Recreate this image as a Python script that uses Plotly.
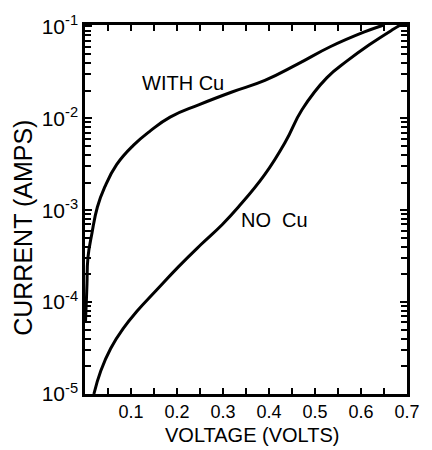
import plotly.graph_objects as go

# WITH Cu curve
with_cu_v = [0.001, 0.0032, 0.0043, 0.0064, 0.015, 0.0268, 0.043, 0.0687, 0.105, 0.142, 0.185,
             0.247, 0.318, 0.391, 0.462, 0.533, 0.606, 0.648]
with_cu_i = [6.0e-5, 1.10e-4, 1.58e-4, 3.05e-4, 5.58e-4, 1.076e-3, 1.79e-3, 3.13e-3, 5.07e-3, 7.3e-3, 1.03e-2,
             1.40e-2, 1.92e-2, 2.58e-2, 3.88e-2, 6.0e-2, 8.65e-2, 1.03e-1]

# NO Cu curve
no_cu_v = [0.0193, 0.0344, 0.0558, 0.0837, 0.1138, 0.1546, 0.204, 0.251, 0.298, 0.333,
           0.391, 0.436, 0.472, 0.526, 0.569, 0.618, 0.670, 0.685]
no_cu_i = [1.0e-5, 1.79e-5, 3.13e-5, 5.2e-5, 8.04e-5, 1.337e-4, 2.45e-4, 4.18e-4, 6.95e-4, 1.076e-3,
           2.45e-3, 5.58e-3, 1.245e-2, 2.77e-2, 4.18e-2, 6.31e-2, 9.29e-2, 1.03e-1]

x_tickvals = [0.1, 0.2, 0.3, 0.4, 0.5, 0.6, 0.7]
x_ticktext = ["0.1", "0.2", "0.3", "0.4", "0.5", "0.6", "0.7"]
y_tickvals = [1e-5, 1e-4, 1e-3, 1e-2, 1e-1]
y_ticktext = ["10<sup>-5</sup>", "10<sup>-4</sup>", "10<sup>-3</sup>", "10<sup>-2</sup>", "10<sup>-1</sup>"]

FONT = "Liberation Sans, Arial, Helvetica, sans-serif"

fig = go.Figure()
for xs, ys in [(with_cu_v, with_cu_i), (no_cu_v, no_cu_i)]:
    fig.add_trace(go.Scatter(x=xs, y=ys, mode="lines",
                             line=dict(color="black", width=3, shape="spline", smoothing=1.3),
                             showlegend=False, hoverinfo="skip"))

fig.update_layout(
    width=432, height=450,
    margin=dict(l=85, r=21, t=13, b=56),
    paper_bgcolor="white", plot_bgcolor="white",
    font=dict(family=FONT, color="black"),
    xaxis=dict(
        range=[0, 0.7], tickvals=x_tickvals, ticktext=x_ticktext,
        ticks="inside", ticklen=6, tickwidth=1.5, tickcolor="black",
        showline=True, linecolor="black", linewidth=2.5, mirror="allticks",
        showgrid=False, zeroline=False,
        tickfont=dict(size=18, family=FONT, color="black"),
        minor=dict(ticks="inside", dtick=0.05, ticklen=6, tickwidth=1.5, tickcolor="black", showgrid=False),
    ),
    yaxis=dict(
        type="log", range=[-5, -0.985], tickvals=y_tickvals, ticktext=y_ticktext,
        ticks="inside", ticklen=7, tickwidth=1.5, tickcolor="black",
        showline=True, linecolor="black", linewidth=2.5, mirror="allticks",
        showgrid=False, zeroline=False,
        tickfont=dict(size=21, family=FONT, color="black"),
        minor=dict(ticks="inside", dtick="D1", ticklen=6, tickwidth=1.5, tickcolor="black", showgrid=False),
    ),
    annotations=[
        dict(text="WITH Cu", x=0.2126, y=-1.611, xref="x", yref="y", showarrow=False,
             font=dict(size=20, family=FONT, color="black")),
        dict(text="NO\u00a0 Cu", x=0.412, y=-3.105, xref="x", yref="y", showarrow=False,
             font=dict(size=20, family=FONT, color="black")),
        dict(text="VOLTAGE (VOLTS)", x=0.52, y=-0.112, xref="paper", yref="paper", showarrow=False,
             yanchor="middle", xanchor="center", font=dict(size=20, family=FONT, color="black")),
        dict(text="CURRENT (AMPS)", x=-0.195, y=0.451, xref="paper", yref="paper", showarrow=False,
             textangle=-90, xanchor="center", yanchor="middle", font=dict(size=25, family=FONT, color="black")),
    ],
)

fig.write_html("out.html")
